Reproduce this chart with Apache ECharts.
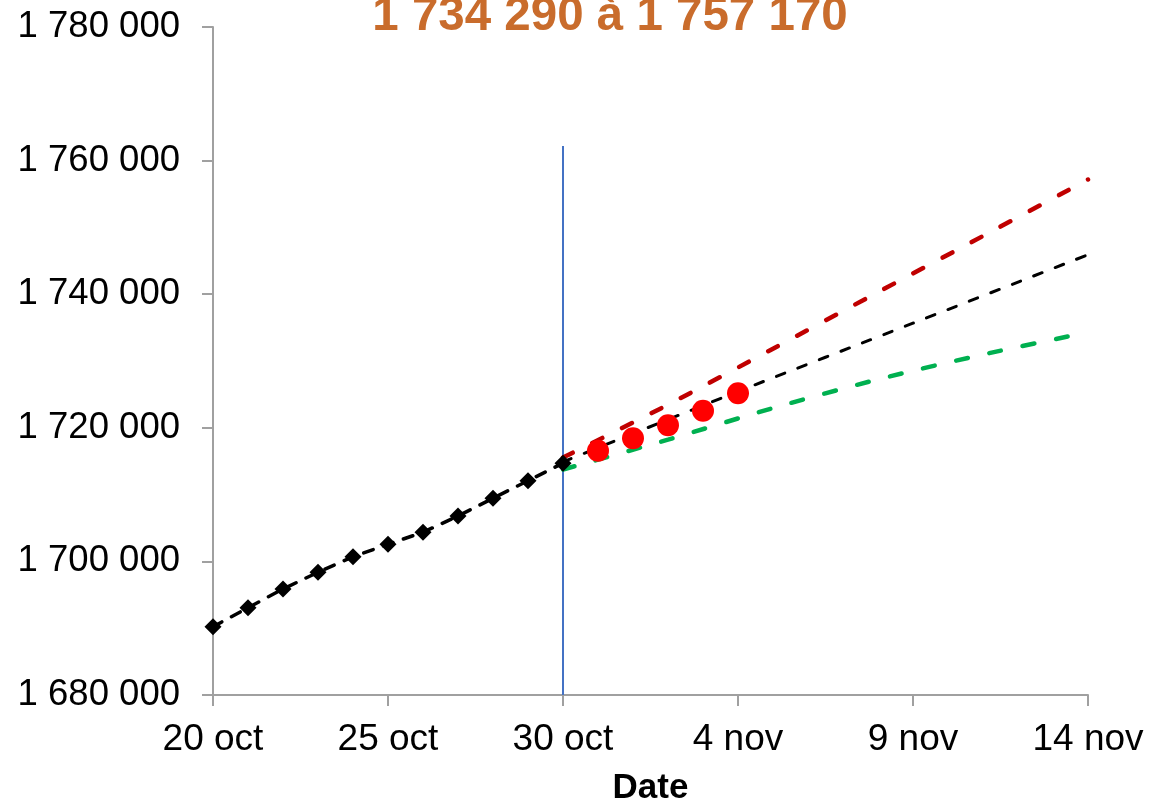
<!DOCTYPE html>
<html>
<head>
<meta charset="utf-8">
<title>Projection</title>
<script src="https://cdn.jsdelivr.net/npm/echarts@6/dist/echarts.min.js"></script>
<style>
  html, body { margin: 0; padding: 0; background: #ffffff; overflow: hidden; }
  #chart { width: 1150px; height: 802px; }
</style>
</head>
<body>
<div id="chart"></div>
<script>
// Day offsets count from 20 oct (day 0)
const xTickLabels = ['20 oct', '25 oct', '30 oct', '4 nov', '9 nov', '14 nov'];

// Observed totals, days 0..10
const observedDays = [0, 1, 2, 3, 4, 5, 6, 7, 8, 9, 10];
const observedValues = [1690220, 1693070, 1695870, 1698370, 1700700, 1702560,
                        1704360, 1706800, 1709450, 1712080, 1714700];

// New observations after the cut-off, days 11..15
const recentDays = [11, 12, 13, 14, 15];
const recentValues = [1716570, 1718430, 1720370, 1722560, 1725160];

// Central trend
const trendDays = [10, 15, 20, 25];
const trendValues = [1714900, 1725430, 1735660, 1745910];

// Upper and lower projections
const boundDays = [10, 13, 16, 19, 22, 25];
const upperValues = [1715550, 1723460, 1731840, 1740300, 1748710, 1757170];
const lowerValues = [1713760, 1718230, 1722960, 1727250, 1730970, 1734290];

// Cut-off marker
const cutoffDay = 10;
const cutoffRange = [1680000, 1762200];

const yMin = 1680000, yMax = 1780000, yStep = 20000;

const fmt = v => String(Math.round(v)).replace(/\B(?=(\d{3})+(?!\d))/g, ' ');
const pairs = (xs, ys) => xs.map((x, i) => [x, ys[i]]);

const titleText = fmt(lowerValues[lowerValues.length - 1]) + ' à ' +
                  fmt(upperValues[upperValues.length - 1]);

const FONT = "'Liberation Sans', Arial, sans-serif";
const chart = echarts.init(document.getElementById('chart'));

chart.setOption({
  animation: false,
  backgroundColor: '#ffffff',
  title: {
    text: titleText,
    left: 605,
    top: -12,
    textAlign: 'center',
    textStyle: { fontFamily: FONT, fontSize: 47.5, fontWeight: 'bold', color: '#C96C2C' }
  },
  grid: {
    left: 213, right: 62, top: 27, bottom: 107,
    containLabel: false,
    outerBoundsMode: 'none'
  },
  xAxis: {
    type: 'value',
    min: 0, max: 25, interval: 5,
    name: 'Date',
    nameLocation: 'middle',
    nameGap: 76,
    nameTextStyle: { fontFamily: FONT, fontSize: 35, fontWeight: 'bold', color: '#000' },
    axisLine: { show: true, onZero: false, lineStyle: { color: '#A0A0A0', width: 2 } },
    axisTick: { show: true, length: 11, lineStyle: { color: '#A0A0A0', width: 2 } },
    axisLabel: {
      margin: 26,
      fontFamily: FONT, fontSize: 37, color: '#000',
      formatter: v => xTickLabels[Math.round(v / 5)] || ''
    },
    splitLine: { show: false }
  },
  yAxis: {
    type: 'value',
    min: yMin, max: yMax, interval: yStep,
    axisLine: { show: true, lineStyle: { color: '#A0A0A0', width: 2 } },
    axisTick: { show: true, length: 11, lineStyle: { color: '#A0A0A0', width: 2 } },
    axisLabel: {
      margin: 33,
      fontFamily: FONT, fontSize: 36.5, color: '#000',
      formatter: v => fmt(v)
    },
    splitLine: { show: false }
  },
  series: [
    {
      name: 'cutoff',
      type: 'line',
      data: [[cutoffDay, cutoffRange[0]], [cutoffDay, cutoffRange[1]]],
      symbol: 'none',
      lineStyle: { color: '#4472C4', width: 2 },
      z: 1
    },
    {
      name: 'upper',
      type: 'line',
      data: pairs(boundDays, upperValues),
      smooth: 0.3,
      symbol: 'none',
      lineStyle: { color: '#C00000', width: 4.5, type: [11, 22], cap: 'round' },
      z: 2
    },
    {
      name: 'lower',
      type: 'line',
      data: pairs(boundDays, lowerValues),
      smooth: 0.3,
      symbol: 'none',
      lineStyle: { color: '#00B050', width: 4.5, type: [12, 22], cap: 'round' },
      z: 2
    },
    {
      name: 'trend',
      type: 'line',
      data: pairs(trendDays, trendValues),
      smooth: 0.3,
      symbol: 'none',
      lineStyle: { color: '#000000', width: 3, type: [9, 14], cap: 'round' },
      z: 3
    },
    {
      name: 'observed',
      type: 'line',
      data: pairs(observedDays, observedValues),
      symbol: 'diamond',
      symbolSize: 17,
      itemStyle: { color: '#000000', opacity: 1 },
      lineStyle: { color: '#000000', width: 3.5, type: [10, 11], cap: 'round' },
      z: 4
    },
    {
      name: 'recent',
      type: 'scatter',
      data: pairs(recentDays, recentValues),
      symbol: 'circle',
      symbolSize: 22,
      itemStyle: { color: '#FF0000', opacity: 1 },
      z: 5
    }
  ]
});
</script>
</body>
</html>
